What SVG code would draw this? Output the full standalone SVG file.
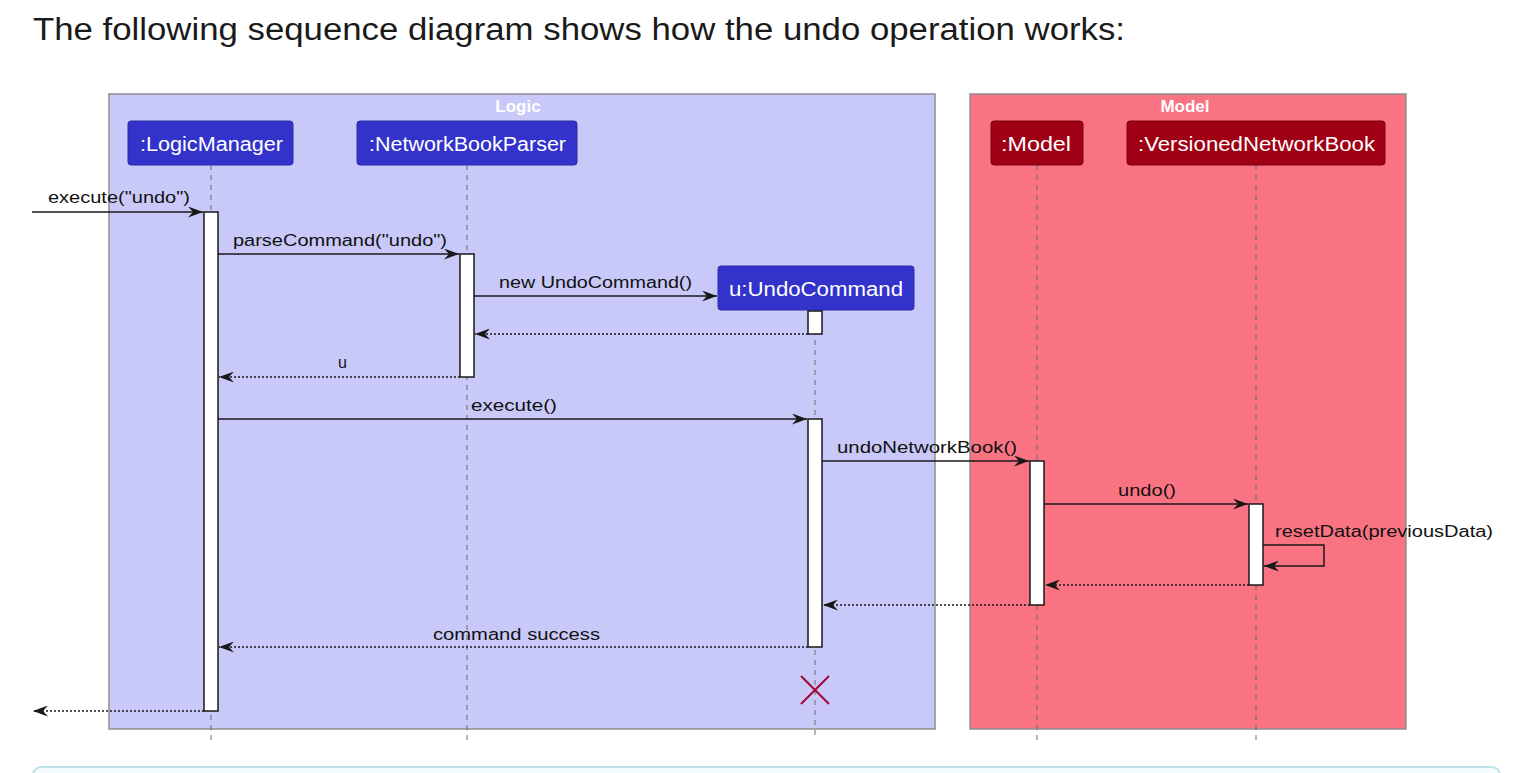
<svg xmlns="http://www.w3.org/2000/svg" width="1532" height="773" viewBox="0 0 1532 773">
<style>
text{font-family:"Liberation Sans",Arial,sans-serif}
.title{font-size:31px;fill:#1a1a1a}
.frameT{font-size:17px;font-weight:bold;fill:#ffffff;text-anchor:middle}
.pt{font-size:20px;fill:#ffffff}
.lbl{font-size:16px;fill:#111111}
.life{stroke:#6b6b6b;stroke-width:1;stroke-dasharray:5,5}
.act{fill:#ffffff;stroke:#181818;stroke-width:1.5}
.msg{stroke:#181818;stroke-width:1.5;fill:none;marker-end:url(#ah)}
.ret{stroke:#181818;stroke-width:1.5;fill:none;stroke-dasharray:2,2;marker-end:url(#ah)}
.pb{fill:#3333CC;stroke:#2a2aa8;stroke-width:1}
.pr{fill:#A00014;stroke:#7a0010;stroke-width:1}
</style>
<defs>
<marker id="ah" viewBox="0 0 15 11" refX="15" refY="5.5" markerWidth="15" markerHeight="11" markerUnits="userSpaceOnUse" orient="auto">
<path d="M0,0 L15,5.5 L0,11 L5,5.5 Z" fill="#181818"/>
</marker>
</defs>
<rect width="1532" height="773" fill="#ffffff"/>
<text class="title" x="33" y="40" textLength="1092" lengthAdjust="spacingAndGlyphs">The following sequence diagram shows how the undo operation works:</text>

<g id="frame-logic">
<rect x="109" y="94" width="826" height="635" fill="#C9C9F9" stroke="#8e8e8e" stroke-width="1.5"/>
<text class="frameT" x="518" y="112">Logic</text>
</g>
<g id="frame-model">
<rect x="970" y="94" width="436" height="635" fill="#FA7383" stroke="#8e8e8e" stroke-width="1.5"/>
<text class="frameT" x="1185" y="112">Model</text>
</g>

<g id="lifelines">
<line class="life" x1="211" y1="165" x2="211" y2="740"/>
<line class="life" x1="467" y1="165" x2="467" y2="740"/>
<line class="life" x1="815" y1="310" x2="815" y2="740"/>
<line class="life" x1="1037" y1="165" x2="1037" y2="740"/>
<line class="life" x1="1256" y1="165" x2="1256" y2="740"/>
</g>

<g id="p-logicmanager">
<rect class="pb" x="128" y="121" width="165" height="44" rx="3"/>
<text class="pt" x="140" y="151" textLength="143" lengthAdjust="spacingAndGlyphs">:LogicManager</text>
</g>
<g id="p-networkbookparser">
<rect class="pb" x="357" y="121" width="220" height="44" rx="3"/>
<text class="pt" x="369" y="151" textLength="197" lengthAdjust="spacingAndGlyphs">:NetworkBookParser</text>
</g>
<g id="p-undocommand">
<rect class="pb" x="718" y="266" width="196" height="44" rx="3"/>
<text class="pt" x="729" y="296" textLength="174" lengthAdjust="spacingAndGlyphs">u:UndoCommand</text>
</g>
<g id="p-model">
<rect class="pr" x="991" y="121" width="92" height="44" rx="3"/>
<text class="pt" x="1001" y="151" textLength="70" lengthAdjust="spacingAndGlyphs">:Model</text>
</g>
<g id="p-versionednetworkbook">
<rect class="pr" x="1127" y="121" width="258" height="44" rx="3"/>
<text class="pt" x="1138" y="151" textLength="237" lengthAdjust="spacingAndGlyphs">:VersionedNetworkBook</text>
</g>

<g id="activations">
<rect class="act" x="204" y="212" width="14" height="499"/>
<rect class="act" x="460" y="254" width="14" height="123"/>
<rect class="act" x="808" y="311" width="14" height="23"/>
<rect class="act" x="808" y="419" width="14" height="228"/>
<rect class="act" x="1030" y="461" width="14" height="144"/>
<rect class="act" x="1249" y="504" width="14" height="81"/>
</g>

<g id="connectors">
<line class="msg" x1="32" y1="212" x2="203" y2="212"/>
<text class="lbl" x="48" y="203" textLength="142" lengthAdjust="spacingAndGlyphs">execute("undo")</text>

<line class="msg" x1="218" y1="254" x2="459" y2="254"/>
<text class="lbl" x="233" y="246" textLength="214" lengthAdjust="spacingAndGlyphs">parseCommand("undo")</text>

<line class="msg" x1="474" y1="296" x2="717" y2="296"/>
<text class="lbl" x="499" y="288" textLength="193" lengthAdjust="spacingAndGlyphs">new UndoCommand()</text>

<line class="ret" x1="808" y1="334" x2="475" y2="334"/>

<line class="ret" x1="460" y1="377" x2="219" y2="377"/>
<text class="lbl" x="338" y="368">u</text>

<line class="msg" x1="218" y1="419" x2="807" y2="419"/>
<text class="lbl" x="471" y="411" textLength="86" lengthAdjust="spacingAndGlyphs">execute()</text>

<line class="msg" x1="822" y1="461" x2="1029" y2="461"/>
<text class="lbl" x="837" y="453" textLength="180" lengthAdjust="spacingAndGlyphs">undoNetworkBook()</text>

<line class="msg" x1="1044" y1="504" x2="1248" y2="504"/>
<text class="lbl" x="1118" y="496" textLength="58" lengthAdjust="spacingAndGlyphs">undo()</text>

<path class="msg" d="M1263,545 H1324 V566 H1264"/>
<text class="lbl" x="1275" y="537" textLength="218" lengthAdjust="spacingAndGlyphs">resetData(previousData)</text>

<line class="ret" x1="1249" y1="585" x2="1045" y2="585"/>
<line class="ret" x1="1030" y1="605" x2="823" y2="605"/>

<line class="ret" x1="808" y1="647" x2="219" y2="647"/>
<text class="lbl" x="433" y="640" textLength="167" lengthAdjust="spacingAndGlyphs">command success</text>

<line class="ret" x1="204" y1="711" x2="33" y2="711"/>
</g>

<g id="destroy">
<line x1="801" y1="676" x2="829" y2="704" stroke="#A80036" stroke-width="2"/>
<line x1="829" y1="676" x2="801" y2="704" stroke="#A80036" stroke-width="2"/>
</g>

<rect x="33" y="767" width="1467" height="30" rx="8" fill="#F5FCFD" stroke="#BDE3EA" stroke-width="2"/>
</svg>
